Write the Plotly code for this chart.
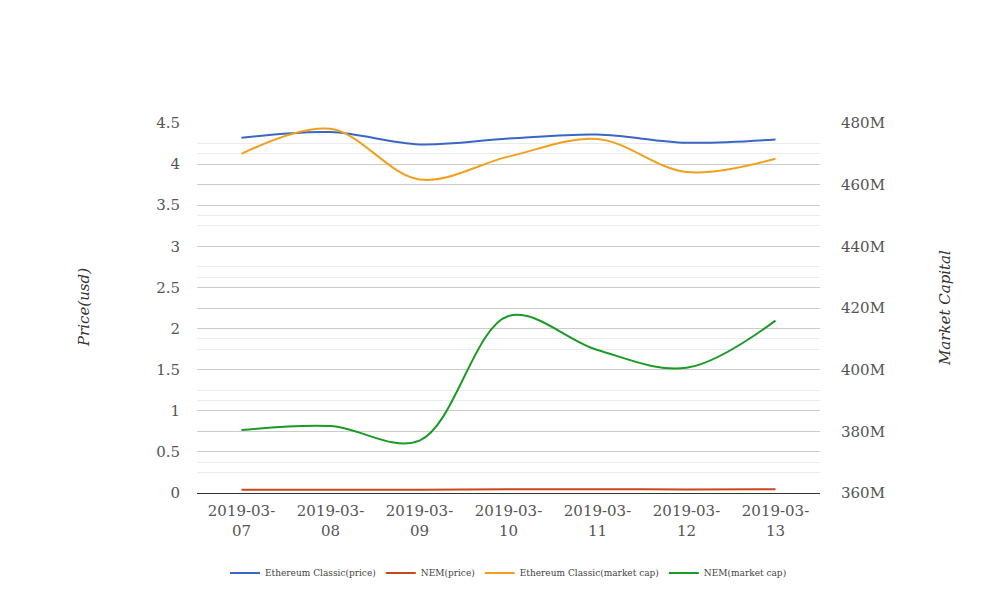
import plotly.graph_objects as go

dates = ["2019-03-07", "2019-03-08", "2019-03-09", "2019-03-10", "2019-03-11", "2019-03-12", "2019-03-13"]
tick_labels = ["2019-03-<br>07", "2019-03-<br>08", "2019-03-<br>09", "2019-03-<br>10", "2019-03-<br>11", "2019-03-<br>12", "2019-03-<br>13"]

etc_price = [4.32, 4.39, 4.24, 4.31, 4.36, 4.26, 4.30]
nem_price = [0.041, 0.041, 0.041, 0.045, 0.045, 0.044, 0.045]
etc_mcap = [470.0e6, 478.1e6, 461.7e6, 469.1e6, 474.8e6, 464.1e6, 468.4e6]
nem_mcap = [380.4e6, 381.7e6, 377.0e6, 417.4e6, 406.4e6, 400.6e6, 415.9e6]

FONT = "DejaVu Serif"
ML, MR, MT, MB = 189, 196, 115, 131
W, H = 1008, 616
plot_w = W - ML - MR
plot_h = H - MT - MB

fig = go.Figure()
fig.add_trace(go.Scatter(x=dates, y=etc_price, name="Ethereum Classic(price)", mode="lines",
                         line=dict(color="#3a66c4", width=2, shape="spline", smoothing=1)))
fig.add_trace(go.Scatter(x=dates, y=nem_price, name="NEM(price)", mode="lines",
                         line=dict(color="#c9461f", width=2, shape="spline", smoothing=1)))
fig.add_trace(go.Scatter(x=dates, y=etc_mcap, name="Ethereum Classic(market cap)", mode="lines", yaxis="y2",
                         line=dict(color="#f2a01c", width=2, shape="spline", smoothing=1)))
fig.add_trace(go.Scatter(x=dates, y=nem_mcap, name="NEM(market cap)", mode="lines", yaxis="y2",
                         line=dict(color="#1c9a26", width=2, shape="spline", smoothing=1)))

fig.update_layout(
    width=W, height=H,
    margin=dict(l=ML, r=MR, t=MT, b=MB, autoexpand=False),
    paper_bgcolor="white", plot_bgcolor="white",
    font=dict(family=FONT, color="#555555", size=15),
    showlegend=True,
    legend=dict(orientation="h", x=0.5, xanchor="center", y=-0.216, yanchor="middle",
                font=dict(family=FONT, size=9, color="#444444"), itemwidth=30),
    xaxis=dict(type="category", range=[-0.5, 6.5], tickvals=dates, ticktext=tick_labels,
               showgrid=False, showline=True, linecolor="#333333", linewidth=1,
               ticks="", ticklabelstandoff=4, tickfont=dict(family=FONT, size=15, color="#555555")),
    yaxis=dict(range=[0, 4.5], dtick=0.5, tick0=0, showgrid=True, gridcolor="#cccccc", gridwidth=1,
               zeroline=False, ticks="", tickfont=dict(family=FONT, size=15, color="#555555"),
               ticklabelstandoff=16,
               minor=dict(dtick=0.25, tick0=0, showgrid=True, gridcolor="#ebebeb", gridwidth=1)),
    yaxis2=dict(range=[360e6, 480e6], dtick=20e6, tick0=360e6, overlaying="y", side="right",
                showgrid=True, gridcolor="#cccccc", gridwidth=1, zeroline=False, ticks="",
                tickformat="~s", ticklabelstandoff=20,
                tickfont=dict(family=FONT, size=15, color="#555555"),
                minor=dict(dtick=10e6, tick0=360e6, showgrid=True, gridcolor="#ebebeb", gridwidth=1)),
)

titles = [("<i>Price(usd)</i>", 76, 300), ("<i>Market Capital</i>", 937, 300)]
for text, px, py in titles:
    fig.add_annotation(text=text, x=(px - ML) / plot_w, y=(H - MB - py) / plot_h,
                       xref="paper", yref="paper", xanchor="center", yanchor="middle",
                       showarrow=False, textangle=-90,
                       font=dict(family=FONT, size=15, color="#333333"))

fig.write_html("out.html")
